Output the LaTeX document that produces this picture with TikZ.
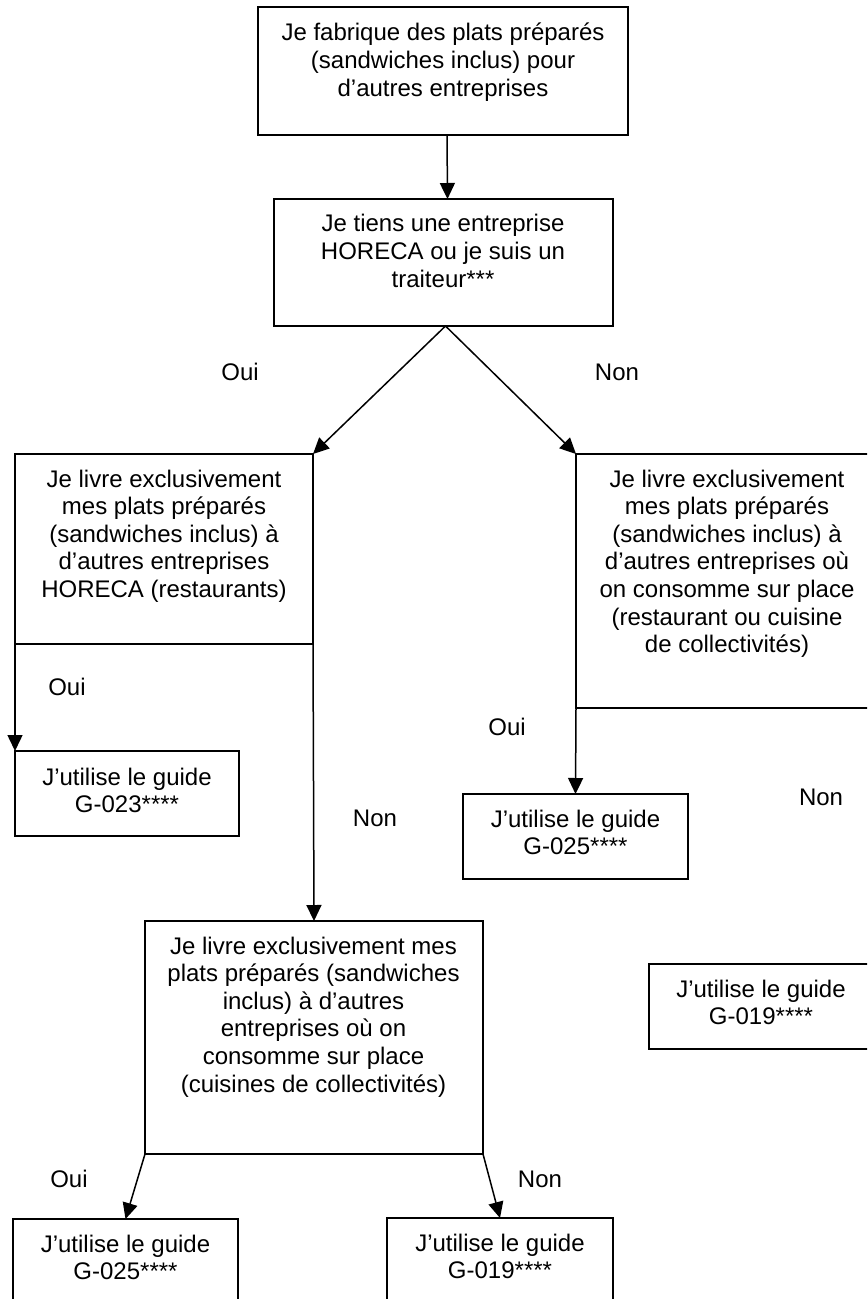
\documentclass[tikz,border=0pt]{standalone}
\usepackage{fontspec}
\setmainfont{Liberation Sans}
\usetikzlibrary{arrows.meta}
\tikzset{
  box/.style={draw, line width=0.8pt, rectangle, inner sep=0pt, outer sep=0pt, anchor=north west},
  txt/.style={inner sep=0pt, anchor=base, font=\fontsize{12pt}{13.8pt}\selectfont},
  lbl/.style={inner sep=0pt, anchor=base, font=\fontsize{12pt}{13.8pt}\selectfont},
  arr/.style={line width=0.75pt, -{Triangle[length=8pt,width=7.5pt]}},
}
\newcommand{\ml}[1]{\begin{tabular}[t]{@{}c@{}}#1\end{tabular}}
\begin{document}
\begin{tikzpicture}[x=0.5pt,y=-0.5pt]
\useasboundingbox (0,0) rectangle (867,1299);
\clip (0,0) rectangle (867,1299);
% boxes
\node[box, minimum width=185pt, minimum height=64pt] (b1) at (258,7) {};
\node[box, minimum width=169.5pt, minimum height=63.5pt] (b2) at (274,199) {};
\node[box, minimum width=149pt, minimum height=95pt] (b3) at (15,454) {};
\node[box, minimum width=112pt, minimum height=42.5pt] (b4) at (15,751) {};
\node[box, minimum width=169pt, minimum height=116.5pt] (b5) at (145,921) {};
\node[box, minimum width=151pt, minimum height=127pt] (b6) at (576,454) {};
\node[box, minimum width=112.5pt, minimum height=60pt] (b7) at (13,1219) {};
\node[box, minimum width=112.5pt, minimum height=42.5pt] (b8) at (463,794) {};
\node[box, minimum width=112pt, minimum height=42.5pt] (b9) at (649,964) {};
\node[box, minimum width=113pt, minimum height=60pt] (b10) at (387,1218) {};
% texts
\node[txt] (t1) at (443,41) {\ml{Je fabrique des plats préparés\\(sandwiches inclus) pour\\d’autres entreprises}};
\node[txt] (t2) at (443,232) {\ml{Je tiens une entreprise\\HORECA ou je suis un\\traiteur***}};
\node[txt] (t3) at (164,487) {\ml{Je livre exclusivement\\mes plats préparés\\(sandwiches inclus) à\\d’autres entreprises\\HORECA (restaurants)}};
\node[txt] (t4) at (127,785) {\ml{J’utilise le guide\\G-023****}};
\node[txt] (t5) at (313.5,954) {\ml{Je livre exclusivement mes\\plats préparés (sandwiches\\inclus) à d’autres\\entreprises où on\\consomme sur place\\(cuisines de collectivités)}};
\node[txt] (t6) at (727,487) {\ml{Je livre exclusivement\\mes plats préparés\\(sandwiches inclus) à\\d’autres entreprises où\\on consomme sur place\\(restaurant ou cuisine\\de collectivités)}};
\node[txt] (t7) at (125.5,1252) {\ml{J’utilise le guide\\G-025****}};
\node[txt] (t8) at (575.5,827) {\ml{J’utilise le guide\\G-025****}};
\node[txt] (t9) at (761,997) {\ml{J’utilise le guide\\G-019****}};
\node[txt] (t10) at (500,1251) {\ml{J’utilise le guide\\G-019****}};
% labels
\node[lbl] (l1) at (240,380) {Oui};
\node[lbl] (l2) at (617,380) {Non};
\node[lbl] (l3) at (67,695) {Oui};
\node[lbl] (l4) at (507,735) {Oui};
\node[lbl] (l5) at (375,826) {Non};
\node[lbl] (l6) at (821,805) {Non};
\node[lbl] (l7) at (69,1187) {Oui};
\node[lbl] (l8) at (540,1187) {Non};
% connectors
\draw[arr] ([xshift=2pt]b1.south) -- ([xshift=2pt]b2.north);
\draw[arr] ([xshift=1pt]b2.south) -- (b3.north east);
\draw[arr] ([xshift=1pt]b2.south) -- (b6.north west);
\draw[arr] (b3.south west) -- (b4.north west);
\draw[arr] (b3.south east) -- (b5.north);
\draw[arr] (b6.south west) -- (b8.north);
\draw[arr] (b5.south west) -- (b7.north);
\draw[arr] (b5.south east) -- (b10.north);
\end{tikzpicture}
\end{document}
